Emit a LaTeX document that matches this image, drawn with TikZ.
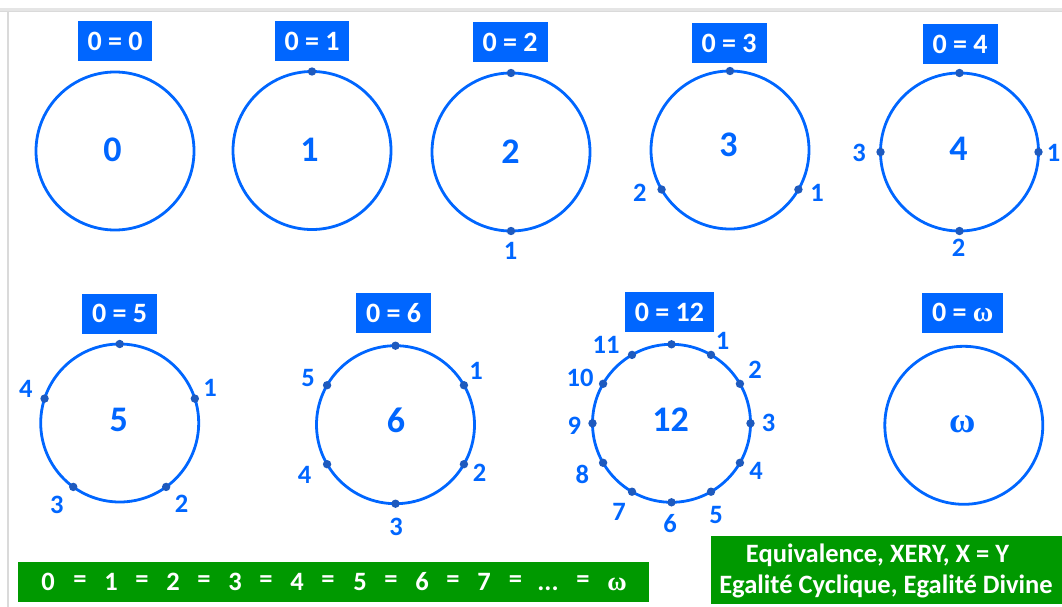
\documentclass[tikz,border=0pt]{standalone}
\usepackage{fontspec}
\setmainfont{Carlito}
\newfontfamily\omegafont{Liberation Serif}
\definecolor{cblue}{RGB}{0,102,255}
\definecolor{bblue}{RGB}{0,102,255}
\definecolor{dblue}{RGB}{30,90,190}
\definecolor{gfill}{RGB}{0,153,0}
\definecolor{framegray}{RGB}{218,218,218}
\begin{document}
\begin{tikzpicture}[x=1pt,y=-1pt,
 ring/.style={circle,draw=cblue,line width=2.8pt,minimum size=158pt,inner sep=0pt,outer sep=0pt},
 tag/.style={fill=bblue,text=white,font=\fontsize{28}{28}\selectfont\bfseries,minimum height=40pt,inner xsep=10pt,inner ysep=0pt},
 bignum/.style={text=cblue,font=\fontsize{36}{36}\selectfont\bfseries,inner sep=0pt},
 ptlab/.style={text=cblue,font=\fontsize{26.5}{26.5}\selectfont\bfseries,inner sep=0pt},
 gbox/.style={fill=gfill,inner sep=0pt},
 gtext/.style={text=white,font=\fontsize{26.5}{26.5}\selectfont\bfseries,inner sep=0pt},
 dotc/.style={fill=dblue}
]
\useasboundingbox (0,0) rectangle (1062,607);
% frame
\fill[framegray!70] (0,8) rectangle (1062,12);
\fill[framegray] (0,11) rectangle (1062,12.3);
\fill[framegray] (7.3,11) rectangle (9,607);

% ---- row 1 ----
\node[tag] (b0) at (115,41) {0 = 0};
\node[ring] (c0) at (115,151) {};
\node[bignum] (n0) at (112.5,149.5) {0};

\node[tag] (b1) at (312,41) {0 = 1};
\node[ring] (c1) at (312,150.5) {};
\node[bignum] (n1) at (309.5,149.5) {1};
\fill[dotc] (c1.90) circle (4.2pt);

\node[tag] (b2) at (510,42) {0 = 2};
\node[ring] (c2) at (511,152) {};
\node[bignum] (n2) at (510.6,151.7) {2};
\foreach \a in {90,270} \fill[dotc] (c2.\a) circle (4.2pt);
\node[ptlab] (l2-1) at (510.6,250.7) {1};

\node[tag] (b3) at (729,43) {0 = 3};
\node[ring] (c3) at (730,150) {};
\node[bignum] (n3) at (728.5,145) {3};
\foreach \a in {90,-30,210} \fill[dotc] (c3.\a) circle (4.2pt);
\node[ptlab] (l3-1) at (817,193.3) {1};
\node[ptlab] (l3-2) at (639.8,193.3) {2};

\node[tag] (b4) at (960,44) {0 = 4};
\node[ring] (c4) at (959.5,152) {};
\node[bignum] (n4) at (958.6,149.3) {4};
\foreach \a in {90,0,270,180} \fill[dotc] (c4.\a) circle (4.2pt);
\node[ptlab] (l4-1) at (1053.6,153.3) {1};
\node[ptlab] (l4-2) at (958.6,248.3) {2};
\node[ptlab] (l4-3) at (859,153.3) {3};

% ---- row 2 ----
\node[tag] (b5) at (119.5,313.7) {0 = 5};
\node[ring] (c5) at (119.7,423) {};
\node[bignum] (n5) at (118.8,420) {5};
\foreach \a in {90,18,-54,-126,162} \fill[dotc] (c5.\a) circle (4.2pt);
\foreach \x/\y/\t in {210/388.3/1, 181.5/504/2, 56.8/505/3, 25.8/389.3/4}
  \node[ptlab] (l5-\t) at (\x,\y) {\t};

\node[tag] (b6) at (393.6,313.3) {0 = 6};
\node[ring] (c6) at (395.5,424.7) {};
\node[bignum] (n6) at (396,420) {6};
\foreach \a in {90,30,-30,-90,-150,150} \fill[dotc] (c6.\a) circle (4.2pt);
\foreach \x/\y/\t in {476/370.7/1, 479.7/473.3/2, 396/527.3/3, 304.5/475/4, 308.2/377.7/5}
  \node[ptlab] (l6-\t) at (\x,\y) {\t};

\node[tag] (b12) at (669.5,312.3) {0 = 12};
\node[ring] (c12) at (671.5,423.3) {};
\node[bignum] (n12) at (670.7,419.3) {12};
\foreach \a in {0,30,60,90,120,150,180,210,240,270,300,330} \fill[dotc] (c12.\a) circle (4.2pt);
\foreach \x/\y/\t in {722.7/341/1, 755/370/2, 768.7/423.3/3, 756/470.7/4, 716/515/5, 670/523.3/6,
  619/512.3/7, 582.3/474.3/8, 574.3/425.7/9, 580/377.7/10, 606/345/11}
  \node[ptlab] (l12-\t) at (\x,\y) {\t};

\node[tag] (bw) at (962.7,312.8) {0 = {\omegafont ω}};
\node[ring] (cw) at (963.8,425.3) {};
\node[bignum] (nw) at (962.3,424.3) {\omegafont ω};

% ---- green bar ----
\node[gbox,minimum width=631pt,minimum height=40pt] (bar) at (333.8,581.7) {};
\foreach \x/\t/\n in {48/0/0, 80/=/1, 111/1/2, 142/=/3, 173/2/4, 204/=/5, 235/3/6, 266/=/7,
  297/4/8, 328/=/9, 360/5/10, 391/=/11, 422/6/12, 453/=/13, 484/7/14, 515.5/=/15, 583/=/17}
  \node[gtext] (t\n) at (\x,582) {\t};
\node[gtext,anchor=base] (t16) at (548,590) {.{}.{}.};
\node[gtext] (t18) at (617,584) {\omegafont ω};

% ---- green box ----
\node[gbox,minimum width=351pt,minimum height=68pt] (eq) at (886.5,570) {};
\node[gtext,anchor=base] (eq1) at (877.5,562) {Equivalence, XERY, X = Y};
\node[gtext,anchor=base] (eq2) at (886,593.5) {Egalité Cyclique, Egalité Divine};
\end{tikzpicture}
\end{document}
